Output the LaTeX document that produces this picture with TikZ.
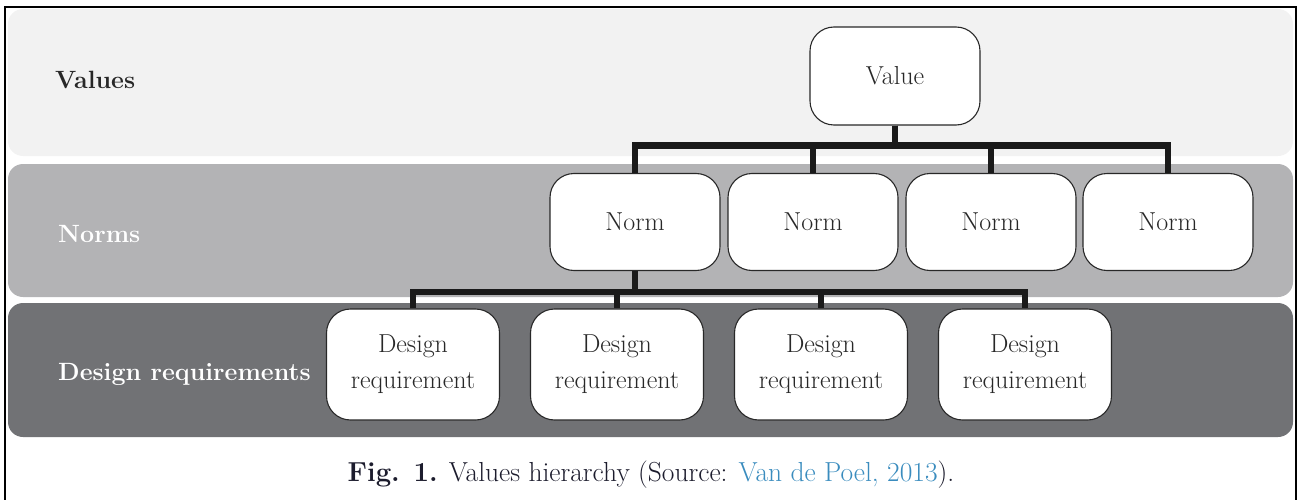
\documentclass[tikz,border=0pt]{standalone}
\usetikzlibrary{calc}
\definecolor{bandA}{RGB}{242,242,242}
\definecolor{bandB}{RGB}{179,179,181}
\definecolor{bandC}{RGB}{113,114,117}
\definecolor{ink}{RGB}{40,40,40}
\definecolor{wire}{RGB}{26,26,26}
\definecolor{capink}{RGB}{28,28,45}
\definecolor{linkblue}{RGB}{58,140,190}
\tikzset{
  band/.style={rounded corners=15pt},
  lvl/.style={anchor=base west, inner sep=0pt, font=\fontsize{25}{29}\selectfont\bfseries},
  box/.style={draw=ink, line width=1.1pt, fill=white, rounded corners=24pt,
    inner sep=0pt, align=center, text=ink, font=\fontsize{26}{36}\selectfont},
  valbox/.style={box, minimum width=170pt, minimum height=98pt},
  normbox/.style={box, minimum width=170pt, minimum height=97pt},
  reqbox/.style={box, minimum width=173pt, minimum height=111pt},
  conn/.style={draw=wire, line width=6.5pt, line join=miter},
}
\begin{document}
\begin{tikzpicture}[x=1pt, y=-1pt]
  \useasboundingbox (0,0) rectangle (1297,500);
  % frame
  \draw[line width=2pt, line join=miter] (5,500) -- (5,7) -- (1296,7) -- (1296,500);
  % level bands
  \fill[bandA, band] (8,9) rectangle (1293,156);
  \fill[bandB, band] (8,164) rectangle (1293,297);
  \fill[bandC, band] (8,303) rectangle (1293,437);
  % level labels
  \node[lvl, text=ink] (lv) at (55,89) {Values};
  \node[lvl, text=white] (ln) at (58,242) {Norms};
  \node[lvl, text=white] (ld) at (58,380) {Design requirements};
  % value
  \node[valbox] (v) at (895,76) {Value};
  % norms
  \node[normbox] (n1) at (635,222) {Norm};
  \node[normbox] (n2) at (813,222) {Norm};
  \node[normbox] (n3) at (991,222) {Norm};
  \node[normbox] (n4) at (1168,222) {Norm};
  % design requirements
  \node[reqbox] (d1) at (413,364.5) {Design\\requirement};
  \node[reqbox] (d2) at (617,364.5) {Design\\requirement};
  \node[reqbox] (d3) at (821,364.5) {Design\\requirement};
  \node[reqbox] (d4) at (1025,364.5) {Design\\requirement};
  % connectors value -> norms
  \foreach \c in {n1,n2,n3,n4}
    \draw[conn] (v.south) -- ++(0,20) -| (\c.north);
  % connectors norm -> design requirements
  \foreach \c in {d1,d2,d3,d4}
    \draw[conn] (n1.south) -- ++(0,21) -| (\c.north);
  % caption
  \node[font=\fontsize{27.5}{32}\selectfont, text=capink, inner sep=0pt] (cap) at (651,475)
    {\textbf{Fig. 1.} Values hierarchy (Source: \textcolor{linkblue}{Van de Poel, 2013}).};
\end{tikzpicture}
\end{document}
